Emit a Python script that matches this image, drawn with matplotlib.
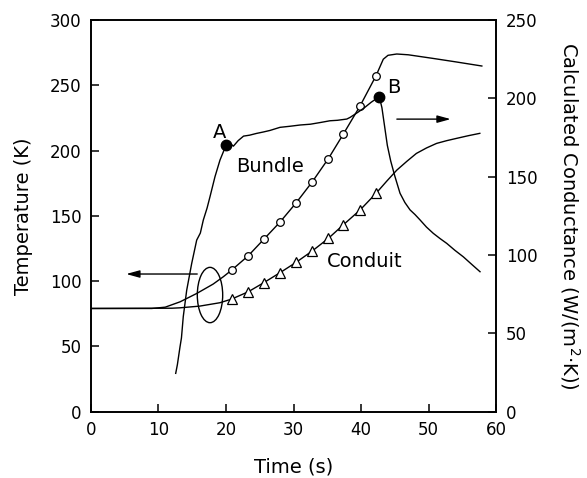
import matplotlib

matplotlib.use("Agg")
import matplotlib.pyplot as plt
from matplotlib.patches import Ellipse

# --- data ------------------------------------------------------------------
# bundle temperature (K), left axis
bundle_t = [0, 9.0, 11.0, 13.2, 15.7, 18.1, 19.6,
            20.84, 23.30, 25.58, 28.0, 30.37, 32.79, 35.16, 37.38, 39.85, 42.22,
            43.3, 44.0, 45.3, 47.0, 50.7, 54.0, 57.9]
bundle_T = [79.0, 79.0, 80.0, 84.1, 90.6, 97.7, 103.3,
            108.4, 119.4, 131.9, 145.2, 159.8, 176.1, 193.8, 212.6, 234.1, 257.3,
            270.0, 273.0, 274.0, 273.4, 270.6, 268.0, 264.8]

# conduit temperature (K), left axis
conduit_t = [0, 12.0, 13.2, 16.1, 19.1,
             20.84, 23.30, 25.58, 28.0, 30.37, 32.79, 35.16, 37.38, 39.85, 42.22,
             43.8, 45.3, 46.8, 48.2, 49.7, 51.2, 52.7, 54.2, 55.9, 57.6]
conduit_T = [79.0, 79.2, 79.5, 80.8, 83.4,
             86.2, 91.8, 98.7, 106.4, 114.3, 123.1, 132.7, 143.1, 154.4, 167.2,
             176.5, 185.0, 191.8, 197.8, 202.0, 205.5, 207.6, 209.4, 211.4, 213.2]

# symbol positions on the two temperature curves
mark_t = [20.84, 23.30, 25.58, 28.0, 30.37, 32.79, 35.16, 37.38, 39.85, 42.22]
bundle_mark_T = [108.4, 119.4, 131.9, 145.2, 159.8, 176.1, 193.8, 212.6, 234.1, 257.3]
conduit_mark_T = [86.2, 91.8, 98.7, 106.4, 114.3, 123.1, 132.7, 143.1, 154.4, 167.2]

# calculated conductance W/(m2 K), right axis
cond_t = [12.55, 12.8, 13.19, 13.4, 13.67, 14.18, 14.92, 15.66, 16.2, 16.64,
          17.2, 17.63, 18.37, 19.11, 20.0, 20.4, 20.8, 21.1, 21.8, 22.6, 23.5,
          24.5, 25.5, 26.5, 28.0, 29.5, 31.0, 32.5, 34.0, 35.4, 36.5, 37.9,
          38.4, 39.5, 40.5, 41.5, 42.71, 43.1, 43.5, 43.9, 44.4, 45.0, 45.78,
          46.5, 47.26, 48.0, 48.74, 49.7, 50.71, 51.7, 52.7, 53.9, 55.16,
          56.4, 57.63]
cond_G = [24.4, 30.0, 41.4, 47.0, 60.6, 77.5, 94.6, 109.5, 114.0, 122.3,
          130.0, 137.2, 150.0, 160.6, 170.0, 168.5, 170.5, 169.5, 173.0, 175.9,
          176.5, 177.6, 178.5, 179.5, 181.5, 182.2, 183.0, 183.5, 184.6, 185.7,
          186.0, 186.8, 187.9, 191.0, 194.0, 197.5, 201.1, 194.0, 182.0, 170.0,
          160.0, 150.5, 139.4, 133.5, 128.8, 125.8, 122.4, 117.8, 113.8, 110.5,
          107.4, 103.0, 98.8, 94.0, 89.3]

# start of the plateau (A) and peak (B) on the conductance curve
point_t = [20.0, 42.71]
point_G = [170.0, 201.1]
point_labels = ["A", "B"]

x_ticks = [0, 10, 20, 30, 40, 50, 60]
left_ticks = [0, 50, 100, 150, 200, 250, 300]
right_ticks = [0, 50, 100, 150, 200, 250]

# ---------------------------------------------------------------------------
fig = plt.figure(figsize=(5.87, 4.78), dpi=100)
ax = fig.add_axes([0.155, 0.139, 0.69, 0.819])
ax2 = ax.twinx()

lw = 1.0
ax.plot(bundle_t, bundle_T, color="black", lw=lw)
ax.plot(conduit_t, conduit_T, color="black", lw=lw)
ax.plot(mark_t, bundle_mark_T, ls="none", marker="o", ms=5.5,
        mfc="white", mec="black", mew=0.9)
ax.plot(mark_t, conduit_mark_T, ls="none", marker="^", ms=7,
        mfc="white", mec="black", mew=0.9)

ax2.plot(cond_t, cond_G, color="black", lw=lw)
ax2.plot(point_t, point_G, ls="none", marker="o", ms=7.5, color="black")

ax.set_xlim(0, 60)
ax.set_ylim(0, 300)
ax2.set_ylim(0, 250)
ax.set_xticks(x_ticks)
ax.set_yticks(left_ticks)
ax2.set_yticks(right_ticks)

for a in (ax, ax2):
    for s in a.spines.values():
        s.set_linewidth(1.2)
ax.tick_params(direction="in", length=6, width=1.1, labelsize=12, pad=7,
               top=False, right=False)
ax2.tick_params(direction="in", length=6, width=1.1, labelsize=12, pad=7)

ax.set_xlabel("Time (s)", fontsize=14, labelpad=13)
ax.set_ylabel("Temperature (K)", fontsize=14, labelpad=12)
ax2.set_ylabel("Calculated Conductance (W/(m$^2$·K))", fontsize=14,
               rotation=270, labelpad=32)

# labels and pointers
ax.text(19.0, 214, point_labels[0], fontsize=14, ha="center", va="center")
ax.text(44.8, 248, point_labels[1], fontsize=14, ha="center", va="center")
ax.text(26.5, 188, "Bundle", fontsize=14, ha="center", va="center")
ax.text(40.6, 115, "Conduit", fontsize=14, ha="center", va="center")

ax.add_patch(Ellipse((17.63, 89.3), 3.76, 42.4, fill=False, ec="black", lw=1.0))
head = "-|>,head_length=0.8,head_width=0.22"
ax.annotate("", xy=(4.8, 105.4), xytext=(16.15, 105.4),
            arrowprops=dict(arrowstyle=head, color="black", lw=1.0))
ax.annotate("", xy=(53.7, 224.1), xytext=(44.9, 224.1),
            arrowprops=dict(arrowstyle=head, color="black", lw=1.0))

fig.savefig("out.png", dpi=100)
